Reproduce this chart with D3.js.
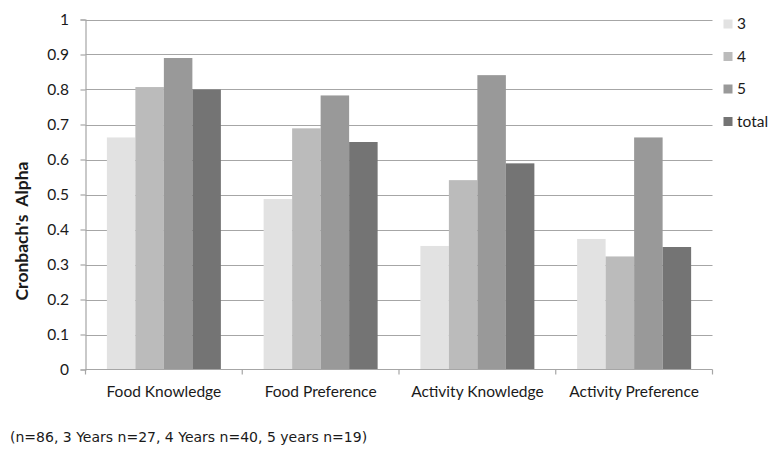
<!DOCTYPE html>
<html>
<head>
<meta charset="utf-8">
<script src="https://cdn.jsdelivr.net/npm/d3@7/dist/d3.min.js"></script>
<style>
  html, body { margin: 0; padding: 0; background: #fff; }
  svg { display: block; }
  text { font-family: Lato, "Open Sans", sans-serif; fill: #1a1a1a; }
</style>
</head>
<body>
<svg id="chart" width="771" height="451"></svg>
<script>
// Cronbach's alpha by scale and age group
const categories = ["Food Knowledge", "Food Preference", "Activity Knowledge", "Activity Preference"];
const seriesNames = ["3", "4", "5", "total"];
const age3  = [0.663, 0.487, 0.353, 0.373];
const age4  = [0.807, 0.689, 0.541, 0.323];
const age5  = [0.890, 0.783, 0.841, 0.663];
const total = [0.800, 0.650, 0.589, 0.350];
const yTicks = [0, 0.1, 0.2, 0.3, 0.4, 0.5, 0.6, 0.7, 0.8, 0.9, 1];
const colors = ["#e2e2e2", "#bbbbbb", "#999999", "#747474"];
const footnote = "(n=86, 3 Years n=27, 4 Years n=40, 5 years n=19)";

const seriesValues = [age3, age4, age5, total];

const svg = d3.select("#chart");
const plot = { left: 85.5, right: 712.5, top: 19.5, bottom: 369.5 };

// clusters leave a gap of 1.5 bar widths per category band
const xBand = d3.scaleBand().domain(categories).range([plot.left, plot.right]);
const groupW = xBand.bandwidth() * (4 / 5.5);
const xInner = d3.scaleBand().domain(seriesNames).range([0, groupW]);

const y = d3.scaleLinear().domain([0, 1]).range([plot.bottom, plot.top]);

// gridlines
svg.append("g")
  .selectAll("line")
  .data(yTicks.filter(d => d > 0))
  .join("line")
  .attr("x1", plot.left)
  .attr("x2", plot.right)
  .attr("y1", d => Math.round(y(d)) + 0.5)
  .attr("y2", d => Math.round(y(d)) + 0.5)
  .attr("stroke", "#a6a6a6")
  .attr("stroke-width", 1.2);

// bars
const groups = svg.append("g")
  .selectAll("g")
  .data(categories)
  .join("g")
  .attr("transform", d => `translate(${xBand(d) + (xBand.bandwidth() - groupW) / 2},0)`);

groups.selectAll("rect")
  .data((c, i) => seriesNames.map((s, j) => ({ s, j, v: seriesValues[j][i] })))
  .join("rect")
  .attr("x", d => xInner(d.s))
  .attr("width", xInner.bandwidth())
  .attr("y", d => y(d.v))
  .attr("height", d => y(0) - y(d.v))
  .attr("fill", d => colors[d.j]);

// y axis
const yAxis = d3.axisLeft(y)
  .tickValues(yTicks)
  .tickSize(5)
  .tickPadding(11.5)
  .tickFormat(d => d === 0 ? "0" : d === 1 ? "1" : d3.format(".1f")(d));
const gy = svg.append("g")
  .attr("transform", `translate(${plot.left},0)`)
  .call(yAxis);
gy.select(".domain").attr("stroke", "#a6a6a6").attr("stroke-width", 1.2);
gy.selectAll(".tick line").attr("stroke", "#a6a6a6").attr("stroke-width", 1.2);
gy.selectAll(".tick text")
  .style("font-family", "Lato, sans-serif")
  .style("font-size", "15.5px")
  .attr("fill", "#1a1a1a");

// x axis with tick marks at category boundaries
const gx = svg.append("g").attr("transform", `translate(0,${plot.bottom})`);
gx.append("line")
  .attr("x1", plot.left).attr("x2", plot.right)
  .attr("y1", 0).attr("y2", 0)
  .attr("stroke", "#a6a6a6").attr("stroke-width", 1.2);
const boundaries = categories.map(c => xBand(c)).concat([plot.right]);
gx.selectAll(".bnd")
  .data(boundaries)
  .join("line")
  .attr("class", "bnd")
  .attr("x1", d => d).attr("x2", d => d)
  .attr("y1", 0).attr("y2", 5)
  .attr("stroke", "#a6a6a6").attr("stroke-width", 1.2);
gx.selectAll(".cat")
  .data(categories)
  .join("text")
  .attr("class", "cat")
  .attr("x", d => xBand(d) + xBand.bandwidth() / 2)
  .attr("y", 27)
  .attr("text-anchor", "middle")
  .style("font-size", "15.5px")
  .text(d => d);

// y axis title
svg.append("text")
  .attr("transform", "translate(28,231) rotate(-90)")
  .attr("text-anchor", "middle")
  .style("font-size", "17.5px")
  .style("font-weight", "bold")
  .style("white-space", "pre")
  .text("Cronbach's  Alpha");

// legend
const legend = svg.append("g");
const legendRows = [24, 56.5, 89, 121.5];
seriesNames.forEach((s, i) => {
  legend.append("rect")
    .attr("x", 723.5).attr("y", legendRows[i] - 4.5)
    .attr("width", 9).attr("height", 9)
    .attr("fill", colors[i]);
  legend.append("text")
    .attr("x", 737).attr("y", legendRows[i])
    .attr("dy", "0.35em")
    .style("font-size", "15.5px")
    .text(s);
});

// sample size note
svg.append("text")
  .attr("x", 10).attr("y", 442)
  .style("font-family", "'DejaVu Sans', sans-serif")
  .style("font-size", "14px")
  .text(footnote);
</script>
</body>
</html>
